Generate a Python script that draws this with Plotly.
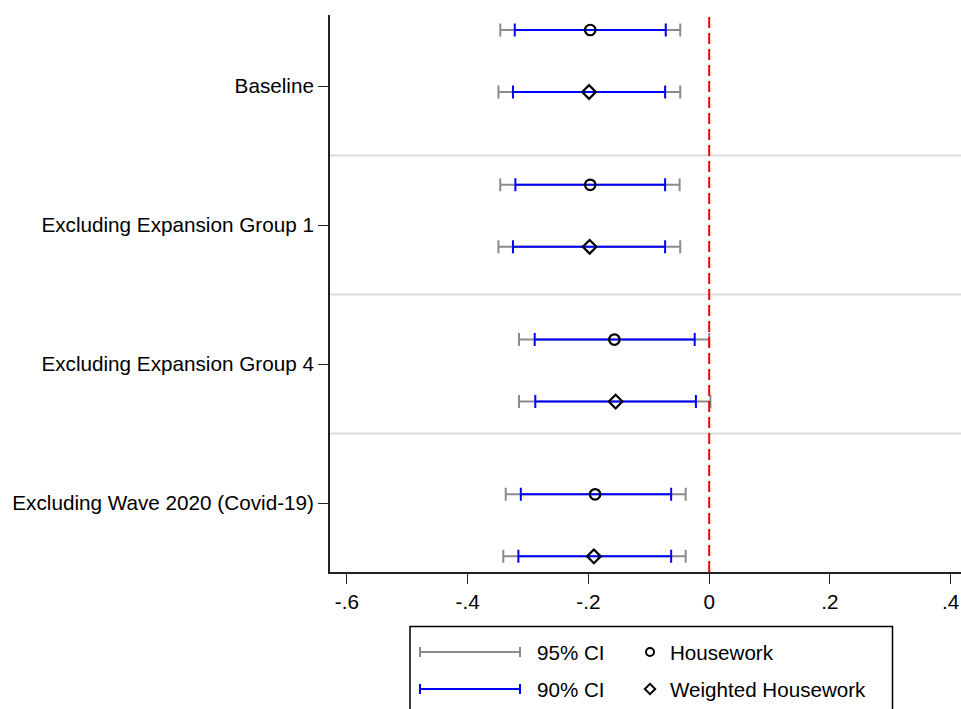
import plotly.graph_objects as go

# Specifications (rows of the coefficient plot)
specs = ["Baseline", "Excluding Expansion Group 1",
         "Excluding Expansion Group 4", "Excluding Wave 2020 (Covid-19)"]

# Housework: point estimate and confidence bounds
hw_est = [-0.197, -0.197, -0.157, -0.189]
hw_lo95 = [-0.346, -0.346, -0.315, -0.337]
hw_hi95 = [-0.048, -0.049, 0.000, -0.039]
hw_lo90 = [-0.322, -0.321, -0.289, -0.312]
hw_hi90 = [-0.072, -0.073, -0.024, -0.063]

# Weighted housework: point estimate and confidence bounds
whw_est = [-0.199, -0.198, -0.155, -0.191]
whw_lo95 = [-0.349, -0.349, -0.315, -0.341]
whw_hi95 = [-0.048, -0.048, 0.002, -0.039]
whw_lo90 = [-0.325, -0.325, -0.288, -0.316]
whw_hi90 = [-0.073, -0.073, -0.022, -0.063]

x_ticks = [-0.6, -0.4, -0.2, 0, 0.2, 0.4]
x_ticktext = ["-.6", "-.4", "-.2", "0", ".2", ".4"]

FONT = "Liberation Sans, Arial, Helvetica, sans-serif"
GRAY = "#8c8c8c"
BLUE = "#0000ff"

# vertical placement of the two estimates inside each specification band
n = len(specs)
y_hw = [0.597 + 1.1135 * i for i in range(n)]
y_whw = [y + 0.446 for y in y_hw]

fig = go.Figure()


def ci_trace(est, lo, hi, ys, color, cap):
    return go.Scatter(
        x=est, y=ys, mode="markers",
        marker=dict(size=1, color="rgba(0,0,0,0)"),
        error_x=dict(type="data", symmetric=False,
                     array=[h - e for h, e in zip(hi, est)],
                     arrayminus=[e - l for e, l in zip(est, lo)],
                     color=color, thickness=2, width=cap),
        showlegend=False, hoverinfo="skip",
    )


for est, lo95, hi95, lo90, hi90, ys, sym in [
    (hw_est, hw_lo95, hw_hi95, hw_lo90, hw_hi90, y_hw, "circle-open"),
    (whw_est, whw_lo95, whw_hi95, whw_lo90, whw_hi90, y_whw, "diamond-open"),
]:
    fig.add_trace(ci_trace(est, lo95, hi95, ys, GRAY, 6.5))
    fig.add_trace(ci_trace(est, lo90, hi90, ys, BLUE, 6.5))
    fig.add_trace(go.Scatter(
        x=est, y=ys, mode="markers",
        marker=dict(symbol=sym, size=10.5, color="black", line=dict(width=2.2)),
        showlegend=False,
    ))

# ---- hand-built legend in its own hidden axes below the plot ----
leg_mid = 470
leg_half = 50
leg_rows = [652, 689]
for yy, color in zip(leg_rows, [GRAY, BLUE]):
    fig.add_trace(go.Scatter(
        x=[leg_mid], y=[yy], mode="markers", xaxis="x2", yaxis="y2",
        marker=dict(size=1, color="rgba(0,0,0,0)"),
        error_x=dict(type="constant", value=leg_half, color=color,
                     thickness=2, width=5),
        showlegend=False, hoverinfo="skip",
    ))
for yy, sym in zip(leg_rows, ["circle-open", "diamond-open"]):
    fig.add_trace(go.Scatter(
        x=[650], y=[yy], mode="markers", xaxis="x2", yaxis="y2",
        marker=dict(symbol=sym, size=8, color="black", line=dict(width=2)),
        showlegend=False, hoverinfo="skip",
    ))
for xx, yy, txt in [(535, 652, "95% CI"), (535, 689, "90% CI"),
                    (668, 652, "Housework"), (668, 689, "Weighted Housework")]:
    fig.add_annotation(x=xx, y=yy, xref="x2", yref="y2", text=txt,
                       showarrow=False, xanchor="left", yanchor="middle",
                       font=dict(family=FONT, size=20.6, color="black"))

fig.add_shape(type="rect", xref="x2", yref="y2", x0=410, x1=892.5,
              y0=626.5, y1=715, line=dict(color="black", width=1.5),
              fillcolor="rgba(0,0,0,0)")

# separators between specifications
for s in [1.5, 2.5, 3.5]:
    fig.add_shape(type="line", xref="x domain", yref="y", x0=0, x1=1,
                  y0=s, y1=s, line=dict(color="#dcdcdc", width=2),
                  layer="below")

# reference line at zero
fig.add_shape(type="line", xref="x", yref="y domain", x0=0, x1=0, y0=0, y1=1,
              line=dict(color="#ff0000", width=2, dash="11px,5px"))

main_bottom = (709 - 572) / 694

fig.update_layout(
    width=961, height=709,
    margin=dict(l=330, r=0, t=15, b=0),
    paper_bgcolor="white", plot_bgcolor="white",
    font=dict(family=FONT, size=20.7, color="black"),
    xaxis=dict(range=[-0.628, 0.417], tickvals=x_ticks, ticktext=x_ticktext,
               showgrid=False, zeroline=False, showline=True,
               linecolor="#222222", linewidth=1.8, ticks="outside",
               ticklen=10, tickwidth=1.2, tickcolor="#222222",
               tickfont=dict(size=20.7), anchor="y"),
    yaxis=dict(domain=[main_bottom, 1], range=[4.496, 0.489],
               tickvals=[1, 2, 3, 4], ticktext=specs,
               showgrid=False, zeroline=False, showline=True,
               linecolor="#222222", linewidth=1.8, ticks="outside",
               ticklen=10, tickwidth=1.2, tickcolor="#222222",
               tickfont=dict(size=20.7), anchor="x"),
    xaxis2=dict(range=[330, 961], visible=False, anchor="y2",
                domain=[0, 1]),
    yaxis2=dict(range=[709, 572], visible=False, anchor="x2",
                domain=[0, main_bottom]),
)

fig.write_html("out.html")
